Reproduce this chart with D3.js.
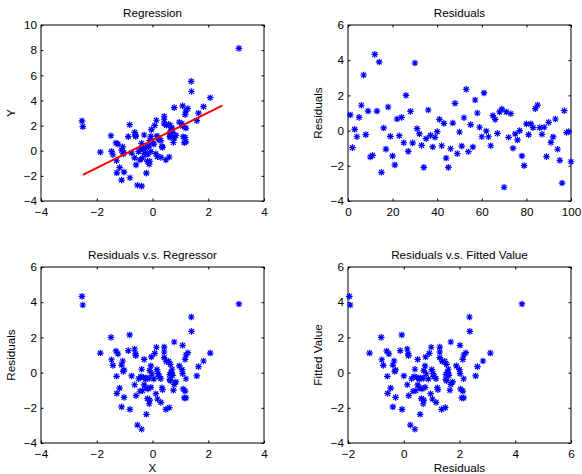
<!DOCTYPE html>
<html>
<head>
<meta charset="utf-8">
<script src="https://cdn.jsdelivr.net/npm/d3@7"></script>
<style>
  body { margin: 0; background: #fff; }
  svg text { font-family: "Liberation Sans", Arial, sans-serif; fill: #000; }
</style>
</head>
<body>
<svg id="chart" width="582" height="474"></svg>
<script>
// regressor values, in observation order
const xVals = [-0.04, 0.36, -1.05, -0.5, -0.3, 0.14, 1.39, 0.24, -1.87, 0.18,
  -1.02, -2.53, 2.07, 3.1, -0.22, -1.02, 1.17, -0.64, -0.12, 1.14,
  -1.11, -1.07, -0.2, 1.17, -0.64, -1.49, -1.28, 0.08, -0.3, -2.5,
  -0.1, -0.75, -0.06, -0.81, 0.64, 0.42, -0.33, -0.16, 0.62, 1.08,
  0.58, 0.34, -1.42, -0.1, 0.48, -0.36, -1.11, 1.08, -0.59, -0.02,
  -1.18, -1.47, 1.4, 0.12, 1.65, 1.1, 0.78, 1.2, -0.39, 1.2,
  -0.82, 0.66, 0.3, -0.24, 0.42, 0.5, 0.72, -1.24, -1.31, -0.39,
  -0.61, -0.25, -0.6, 0.75, 1.59, 0.84, 0.68, 1.2, 0.6, -0.06,
  -0.42, 0.96, 0.16, -0.87, 0.42, 1.06, -1.29, 0.7, -0.18, 0.64,
  0.78, 0.05, 1.83, -0.45, 0.3, -0.54, 1.27, 0.62, 0.2, -0.12]

const resid = [0.89, -0.97, 0.07, -0.35, 0.75, 1.44, 3.16, -0.23, 1.11, -1.5,
  -1.41, 4.33, 1.11, 3.9, -2.37, 0.15, -1.05, 1.34, -0.33, -1.44,
  -1.95, 0.66, -0.29, 0.75, -0.69, 2.0, -1.18, 1.09, -0.7, 3.84,
  0.11, -0.19, -0.84, -2.09, -0.46, 1.17, -0.27, -0.93, -0.38, -0.06,
  0.64, -0.86, 0.41, -1.56, -2.09, -1.03, 0.43, 1.55, -1.31, -0.08,
  -0.88, 0.73, 2.34, -1.2, 0.34, -0.93, 1.74, 1.0, 0.19, -0.35,
  2.14, -0.02, -0.35, -0.86, 0.85, 0.64, -0.16, 1.06, 1.23, -3.22,
  1.06, -0.38, 0.96, -1.0, -0.19, -0.53, 0.0, -1.44, -1.99, 0.38,
  -0.23, 0.38, 0.17, 1.25, 1.45, 0.17, -0.21, 0.19, -1.48, 0.47,
  -0.67, -0.36, 0.66, -1.06, -1.69, -2.98, 1.13, -0.11, -0.06, -1.77]

// fitted line y = b0 + b1 * x, drawn over this x range
const coef = [0.83, 1.1]
const lineX = [-2.5, 2.5]

// axis limits and ticks per panel
const ticksX = [[-4, -2, 0, 2, 4], [0, 20, 40, 60, 80, 100], [-4, -2, 0, 2, 4], [-2, 0, 2, 4, 6]]
const ticksY = [[-4, -2, 0, 2, 4, 6, 8, 10], [-4, -2, 0, 2, 4, 6], [-4, -2, 0, 2, 4, 6], [-4, -2, 0, 2, 4, 6]]
const titles = ["Regression", "Residuals", "Residuals v.s. Regressor", "Residuals v.s. Fitted Value"]
const xLabels = ["", "", "X", "Residuals"]
const yLabels = ["Y", "Residuals", "Residuals", "Fitted Value"]

const fitted = xVals.map(x => coef[0] + coef[1] * x)
const yVals = fitted.map((f, i) => f + resid[i])

const panelData = [
  xVals.map((x, i) => [x, yVals[i]]),
  resid.map((r, i) => [i + 1, r]),
  xVals.map((x, i) => [x, resid[i]]),
  fitted.map((f, i) => [f, resid[i]])
]

const svg = d3.select("#chart")
const fontSize = 11.7
const tickLen = 2.5

// panel boxes in pixels
const boxes = [
  {left: 41, top: 25}, {left: 348, top: 25},
  {left: 41, top: 267}, {left: 348, top: 267}
]
const w = 223, h = 176

// matlab-like '*' marker
const star = "M-3.3,0H3.3M0,-3.3V3.3M-2.4,-2.4L2.4,2.4M-2.4,2.4L2.4,-2.4"

boxes.forEach((b, p) => {
  var g = svg.append("g").attr("transform", "translate(" + b.left + "," + b.top + ")")

  var xs = d3.scaleLinear().domain(d3.extent(ticksX[p])).range([0, w])
  var ys = d3.scaleLinear().domain(d3.extent(ticksY[p])).range([h, 0])

  // axes with inward ticks, mirrored on top and right
  var styleAxis = sel => {
    sel.selectAll(".domain").remove()
    sel.selectAll(".tick line").attr("stroke", "#000")
    sel.selectAll("text").attr("font-size", fontSize).attr("font-family", null)
  }
  g.append("g").attr("transform", "translate(0," + h + ")")
    .call(d3.axisBottom(xs).tickValues(ticksX[p]).tickSize(-tickLen).tickPadding(6.5))
    .call(styleAxis)
  g.append("g")
    .call(d3.axisTop(xs).tickValues(ticksX[p]).tickSize(-tickLen).tickFormat(""))
    .call(styleAxis)
  g.append("g")
    .call(d3.axisLeft(ys).tickValues(ticksY[p]).tickSize(-tickLen).tickPadding(4))
    .call(styleAxis)
  g.append("g").attr("transform", "translate(" + w + ",0)")
    .call(d3.axisRight(ys).tickValues(ticksY[p]).tickSize(-tickLen).tickFormat(""))
    .call(styleAxis)

  g.append("rect")
    .attr("width", w).attr("height", h)
    .attr("fill", "none").attr("stroke", "#000").attr("stroke-width", 1)

  // points
  g.append("g").selectAll("path")
    .data(panelData[p])
    .enter().append("path")
    .attr("d", star)
    .attr("transform", d => "translate(" + xs(d[0]) + "," + ys(d[1]) + ")")
    .attr("stroke", "#0000ff")
    .attr("stroke-width", 1.2)
    .attr("fill", "none")

  // regression line only on the first panel
  if (p === 0) {
    g.append("path")
      .datum(lineX.map(x => [x, coef[0] + coef[1] * x]))
      .attr("d", d3.line().x(d => xs(d[0])).y(d => ys(d[1])))
      .attr("stroke", "#ff0000")
      .attr("stroke-width", 2)
      .attr("fill", "none")
  }

  g.append("text")
    .text(titles[p])
    .attr("x", w / 2).attr("y", -8.5)
    .attr("text-anchor", "middle")
    .attr("font-size", fontSize)

  g.append("text")
    .text(xLabels[p])
    .attr("x", w / 2).attr("y", h + 29)
    .attr("text-anchor", "middle")
    .attr("font-size", fontSize)

  g.append("text")
    .text(yLabels[p])
    .attr("transform", "translate(-30," + (h / 2) + ") rotate(-90)")
    .attr("dy", "0.35em")
    .attr("text-anchor", "middle")
    .attr("font-size", fontSize)
})
</script>
</body>
</html>
